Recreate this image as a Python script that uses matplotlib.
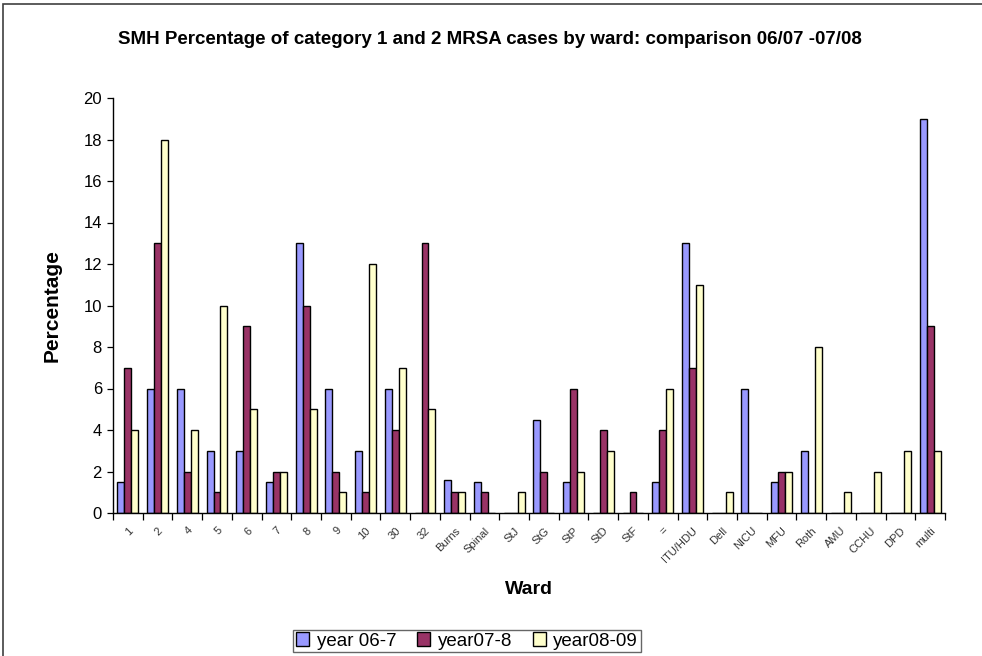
import matplotlib
matplotlib.use("Agg")
import matplotlib.pyplot as plt
import numpy as np
from matplotlib.patches import Rectangle

plt.rcParams['font.family'] = ['Liberation Sans', 'DejaVu Sans']

wards = ["1", "2", "4", "5", "6", "7", "8", "9", "10", "30", "32", "Burns",
         "Spinal", "StJ", "StG", "StP", "StD", "StF", "=", "ITU/HDU", "Dell",
         "NICU", "MFU", "Roth", "AMU", "CCHU", "DPD", "multi"]
year_06_07 = [1.5, 6, 6, 3, 3, 1.5, 13, 6, 3, 6, 0, 1.6, 1.5, 0, 4.5, 1.5, 0, 0,
              1.5, 13, 0, 6, 1.5, 3, 0, 0, 0, 19]
year_07_08 = [7, 13, 2, 1, 9, 2, 10, 2, 1, 4, 13, 1, 1, 0, 2, 6, 4, 1,
              4, 7, 0, 0, 2, 0, 0, 0, 0, 9]
year_08_09 = [4, 18, 4, 10, 5, 2, 5, 1, 12, 7, 5, 1, 0, 1, 0, 2, 3, 0,
              6, 11, 1, 0, 2, 8, 1, 2, 3, 3]
series_names = ["year 06-7", "year07-8", "year08-09"]
colors = ["#9999FF", "#993366", "#FFFFCC"]

fig = plt.figure(figsize=(9.82, 6.56), dpi=100)
W, H = 982, 656

# outer chart frame (runs off the right and bottom edges)
fig.patches.append(Rectangle((3 / W, -0.1), 1.0, 1.1 - 4 / H, transform=fig.transFigure,
                             fill=False, edgecolor="#404040", linewidth=1.2))

ax = fig.add_axes([113 / W, 1 - 513 / H, 832 / W, (513 - 98) / H])

x = np.arange(len(wards))
bw = 0.235
for i, (vals, name, c) in enumerate(zip([year_06_07, year_07_08, year_08_09],
                                        series_names, colors)):
    ax.bar(x + (i - 1) * bw, vals, width=bw, color=c, edgecolor="black",
           linewidth=1.0, label=name)

ax.set_xlim(-0.5, len(wards) - 0.5)
ax.set_ylim(0, 20)
ax.set_yticks(np.arange(0, 21, 2))
ax.tick_params(axis="y", labelsize=12, length=4, width=0.9, direction="out", pad=4)

# category boundaries carry the tick marks, labels sit under each group
ax.set_xticks(np.arange(-0.5, len(wards), 1.0))
ax.set_xticklabels([])
ax.tick_params(axis="x", length=5, width=0.9, direction="out")
ax.set_xticks(x, minor=True)
ax.set_xticklabels(wards, minor=True, rotation=45, ha="right",
                   rotation_mode="anchor", fontsize=8, color="#333333")
ax.tick_params(axis="x", which="minor", length=0, pad=9)

for s in ["top", "right"]:
    ax.spines[s].set_visible(False)
for s in ["left", "bottom"]:
    ax.spines[s].set_linewidth(1.0)

fig.text(490 / W, 1 - 40 / H,
         "SMH Percentage of category 1 and 2 MRSA cases by ward: comparison 06/07 -07/08",
         ha="center", va="center", fontsize=13.5, fontweight="bold")
fig.text(52 / W, 1 - 306 / H, "Percentage", rotation=90, ha="center", va="center",
         fontsize=15, fontweight="bold")
fig.text(529 / W, 1 - 590 / H, "Ward", ha="center", va="center",
         fontsize=14, fontweight="bold")

leg = fig.legend(loc="center", bbox_to_anchor=(467 / W, 1 - 641 / H), ncol=3,
                 fontsize=13.5, frameon=True, fancybox=False, edgecolor="#404040",
                 handlelength=0.7, handleheight=0.7, handletextpad=0.4,
                 columnspacing=1.1, borderpad=0.15, borderaxespad=0.2)
leg.get_frame().set_linewidth(1.0)

fig.savefig("out.png", dpi=100)
